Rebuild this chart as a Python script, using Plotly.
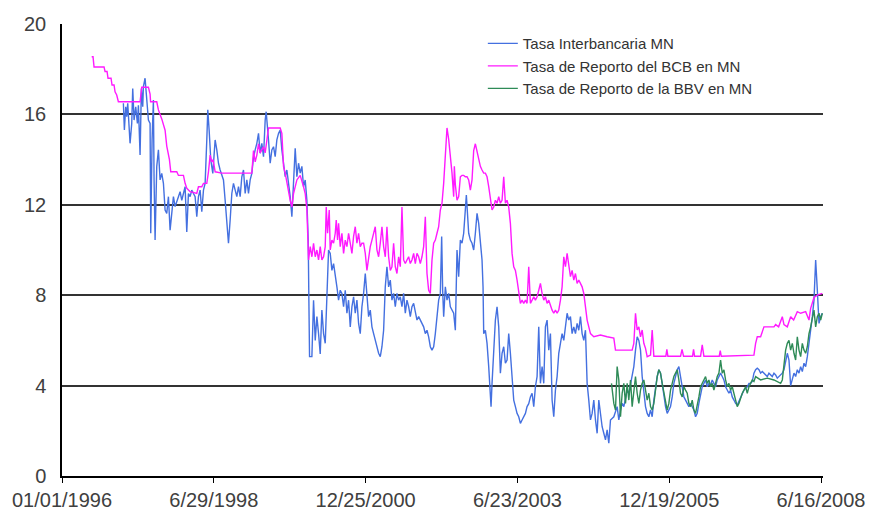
import pandas as pd
import plotly.graph_objects as go

# Days since 01/01/1996 and rates (%)
blue_days = [368,374,382,388,394,408,418,424,432,442,452,458,468,476,484,488,498,508,518,528,532,540,548,552,558,568,578,588,598,608,618,628,638,648,658,668,678,688,698,708,718,728,738,748,758,768,778,788,798,808,818,828,838,848,858,868,874,882,892,904,918,928,938,948,968,978,988,998,1008,1018,1028,1038,1048,1058,1068,1078,1088,1098,1108,1118,1128,1138,1148,1158,1168,1178,1188,1198,1208,1218,1224,1238,1248,1258,1268,1278,1288,1298,1308,1318,1328,1338,1348,1358,1368,1378,1388,1398,1408,1418,1428,1438,1448,1458,1468,1476,1480,1484,1498,1508,1518,1528,1538,1548,1558,1568,1578,1588,1598,1608,1618,1628,1638,1648,1658,1668,1678,1688,1698,1708,1718,1728,1738,1748,1758,1768,1778,1788,1798,1808,1818,1828,1838,1848,1858,1868,1878,1888,1898,1908,1918,1928,1938,1948,1958,1968,1978,1988,1998,2008,2018,2028,2038,2048,2058,2068,2078,2088,2098,2108,2118,2128,2138,2148,2158,2168,2178,2188,2198,2208,2218,2228,2238,2248,2258,2268,2276,2282,2288,2298,2308,2318,2328,2348,2358,2368,2378,2388,2398,2408,2418,2424,2438,2448,2458,2468,2478,2488,2498,2508,2518,2524,2528,2538,2548,2558,2568,2572,2578,2588,2598,2608,2618,2628,2638,2648,2658,2668,2678,2688,2698,2708,2718,2728,2738,2748,2758,2768,2778,2788,2798,2808,2818,2828,2838,2848,2858,2868,2878,2888,2898,2908,2918,2928,2938,2948,2958,2968,2978,2988,2998,3008,3018,3028,3038,3048,3058,3068,3078,3088,3098,3108,3118,3128,3138,3148,3158,3168,3178,3188,3198,3208,3218,3228,3238,3248,3258,3268,3278,3288,3308,3328,3338,3348,3358,3368,3378,3388,3398,3408,3418,3428,3438,3448,3458,3468,3478,3488,3498,3508,3518,3528,3538,3548,3558,3568,3578,3588,3598,3608,3618,3628,3638,3648,3658,3668,3678,3688,3698,3708,3718,3728,3738,3748,3758,3768,3778,3788,3798,3808,3818,3828,3838,3848,3858,3868,3878,3888,3898,3908,3918,3928,3938,3948,3958,3968,3978,3988,3998,4008,4018,4028,4038,4048,4058,4068,4078,4088,4098,4108,4118,4128,4138,4148,4158,4168,4178,4188,4198,4208,4218,4228,4238,4248,4258,4268,4278,4288,4298,4308,4318,4328,4338,4348,4358,4368,4388,4398,4408,4418,4428,4438,4448,4458,4468,4478,4488,4498,4508,4518,4528,4538,4548,4558]
blue_vals = [16.49,15.31,16.34,15.9,16.49,14.72,15.6,17.15,15.75,16.34,15.6,16.4,14.2,17.15,16.34,17.23,17.6,16.78,15.75,15.6,10.74,14.87,16.64,13.1,10.44,13.7,14.43,13.1,13.39,12.95,11.77,11.62,12.36,10.88,11.62,12.36,11.92,12.2,12.36,12.58,12.2,12.5,12.8,10.8,12.5,12.36,12.65,12.5,12.36,11.47,12.36,12.65,11.7,12.65,12.95,14.87,16.2,15.31,13.98,13.39,14.87,14.43,13.84,13.54,13.1,12.2,11.03,10.3,11.33,12.5,12.95,12.65,12.36,12.8,12.36,13.24,13.54,12.5,13.1,12.5,13.1,13.39,14.1,14.43,14.72,15.16,14.28,14.72,14.13,15.75,16.12,14.87,13.84,14.43,14.57,14.13,14.87,15.16,15.31,14.43,13.7,13.24,13.54,12.95,12.36,11.47,12.8,14.5,13.24,13.84,13.4,13.7,12.8,13.1,12.2,10.44,7.78,5.28,5.28,7.78,6.0,7.05,6.3,5.4,7.34,6.3,5.87,8.08,10.0,9.85,9.1,9.4,8.96,8.37,7.78,8.22,8.08,7.49,8.22,7.2,7.78,6.6,7.49,7.93,7.2,7.78,6.75,6.3,7.49,8.08,8.96,7.78,7.05,7.34,6.6,6.3,6.0,5.72,5.43,5.28,5.72,6.45,8.37,9.26,8.37,8.67,7.78,8.08,7.49,8.08,7.78,7.93,7.49,8.08,7.2,7.78,7.49,7.05,7.49,7.64,7.2,6.9,7.05,6.9,6.75,6.6,6.3,6.45,6.16,5.72,5.57,5.72,6.3,7.2,7.78,8.08,10.6,8.2,7.05,8.37,7.78,8.08,7.49,7.2,6.45,10.0,8.82,10.44,10.3,10.74,12.2,12.43,10.74,10.44,10.3,10.0,10.74,11.62,11.18,10.15,9.56,8.37,6.3,6.45,5.87,4.84,3.66,3.07,4.1,5.43,6.9,7.49,6.6,4.55,5.43,5.72,4.99,5.13,6.3,5.43,4.55,3.36,3.07,2.77,2.62,2.33,2.48,2.62,2.77,3.07,3.2,3.5,3.66,3.07,3.95,4.4,6.6,4.1,4.84,4.1,6.6,6.9,5.57,6.3,3.36,2.62,3.8,4.4,5.43,5.87,6.3,6.0,6.6,7.2,6.9,7.05,6.3,6.6,6.3,6.75,6.45,7.05,6.3,6.0,6.45,4.1,3.36,2.48,2.77,3.36,2.48,1.89,3.36,2.62,2.18,1.89,1.6,2.04,1.45,2.48,2.62,3.07,2.48,2.92,3.21,3.07,3.5,3.8,3.66,4.1,4.4,4.84,5.57,6.16,6.0,5.57,4.4,3.66,3.07,2.77,2.62,2.92,2.62,3.36,3.95,4.4,4.7,4.55,4.1,3.5,3.07,2.77,2.92,3.07,3.5,4.1,4.4,4.7,4.84,4.4,3.8,3.5,3.36,3.21,3.07,3.21,3.07,2.92,2.62,2.77,3.21,3.66,3.95,4.1,4.25,3.95,4.1,4.03,4.25,4.1,3.95,4.25,4.4,4.55,4.4,4.25,3.95,3.8,3.66,3.8,3.5,3.36,3.21,3.14,3.29,3.5,3.66,3.8,3.88,3.95,4.1,4.1,4.18,4.55,4.7,4.77,4.7,4.55,4.62,4.55,4.47,4.4,4.55,4.47,4.4,4.55,4.47,4.33,4.4,4.47,4.55,4.7,5.13,5.43,5.13,4.0,4.55,4.4,4.7,4.55,4.84,4.62,4.99,4.84,5.28,5.87,6.3,7.05,7.78,9.56,8.22,6.75,7.05,7.2]

pink_days = [178,186,192,252,258,270,276,294,300,312,318,328,338,468,478,518,528,531,568,578,598,618,628,644,652,688,698,728,738,748,768,808,818,838,848,868,878,888,898,906,918,958,1138,1148,1158,1168,1178,1188,1208,1218,1238,1308,1318,1328,1338,1348,1358,1368,1378,1388,1408,1428,1448,1458,1468,1478,1488,1498,1508,1518,1528,1538,1548,1558,1568,1578,1584,1592,1602,1608,1618,1628,1638,1644,1652,1658,1668,1678,1688,1698,1708,1718,1728,1738,1748,1758,1768,1778,1788,1798,1808,1818,1828,1838,1848,1858,1868,1878,1888,1898,1908,1918,1928,1938,1948,1958,1968,1978,1988,1998,2008,2018,2028,2038,2048,2058,2068,2078,2088,2098,2108,2118,2128,2138,2148,2158,2168,2178,2188,2198,2208,2218,2228,2238,2248,2258,2268,2278,2288,2298,2308,2318,2328,2338,2348,2352,2358,2368,2378,2388,2398,2408,2418,2428,2438,2448,2458,2468,2478,2488,2498,2508,2518,2528,2538,2548,2558,2568,2578,2588,2598,2608,2618,2628,2638,2648,2658,2668,2678,2688,2698,2708,2718,2728,2738,2748,2758,2768,2778,2788,2798,2808,2818,2828,2838,2848,2858,2868,2878,2888,2898,2908,2918,2928,2938,2948,2958,2968,2978,2988,2998,3008,3018,3028,3038,3048,3058,3068,3078,3088,3098,3108,3118,3128,3138,3148,3158,3168,3188,3228,3268,3308,3318,3418,3428,3438,3448,3458,3468,3478,3488,3498,3508,3528,3538,3548,3620,3626,3632,3708,3717,3726,3780,3786,3792,3828,3838,3848,3940,3946,3952,4148,4158,4168,4188,4208,4268,4278,4296,4318,4328,4348,4368,4386,4408,4428,4458,4478,4488,4508,4528,4558]
pink_vals = [18.55,18.55,18.1,18.1,17.9,17.9,17.6,17.6,17.3,17.3,17.0,16.86,16.56,16.56,17.2,17.2,16.9,16.56,16.56,16.2,15.8,15.3,14.6,14.0,13.46,13.46,13.3,13.3,12.95,12.73,12.58,12.5,12.8,12.8,12.95,12.95,13.46,14.2,13.9,14.0,13.46,13.4,13.4,14.4,13.9,14.2,14.7,14.3,14.57,14.3,15.4,15.4,15.16,13.7,13.4,12.95,12.5,12.2,11.9,12.5,13.1,13.3,12.8,12.5,11.8,9.56,10.15,9.7,10.3,9.7,10.0,9.56,10.15,9.56,9.7,10.15,11.9,10.74,11.77,10.0,10.44,10.3,10.74,11.33,10.44,11.18,10.15,10.74,9.85,10.44,10.15,10.74,10.3,9.85,10.6,11.03,10.3,10.74,10.15,10.3,10.3,9.85,9.1,9.7,10.15,10.44,10.74,11.03,10.0,9.7,10.3,11.03,10.15,9.7,11.03,9.7,9.1,9.26,10.3,9.26,8.96,9.7,9.26,11.9,9.56,9.4,9.56,9.7,9.4,9.56,9.85,9.4,9.85,9.7,9.4,9.7,10.15,11.47,8.96,8.22,8.08,9.56,10.3,10.44,10.74,11.03,11.77,12.07,12.95,14.5,15.4,14.9,14.28,13.4,12.36,13.7,12.9,12.2,12.36,13.24,13.3,13.3,13.24,13.24,13.1,12.65,13.1,14.4,14.7,14.4,13.98,13.7,13.54,13.4,13.4,13.24,12.8,12.2,11.77,11.9,12.2,12.07,12.36,12.07,12.2,13.24,12.07,12.2,11.9,11.18,9.85,9.26,9.1,8.67,8.08,7.64,7.78,7.64,7.78,7.64,9.26,7.64,7.78,7.93,7.78,7.93,8.22,8.52,8.08,7.78,7.93,7.64,7.78,7.5,7.34,7.2,7.34,7.2,7.34,7.78,8.37,9.7,9.26,9.85,9.26,8.82,9.1,8.67,8.96,8.52,8.67,8.52,8.37,8.08,7.34,6.9,6.6,6.3,6.16,6.24,6.16,6.1,5.57,5.57,5.87,7.2,6.46,6.6,6.16,6.46,5.87,5.65,5.28,5.35,6.46,5.3,5.3,5.6,5.3,5.3,5.6,5.3,5.3,5.6,5.3,5.3,5.8,5.3,5.3,5.55,5.3,5.35,5.87,6.16,6.16,6.6,6.6,6.7,6.6,7.05,6.7,6.6,7.05,6.9,7.27,7.2,7.27,6.9,7.42,7.9,8.0,8.08]

green_days = [3294,3308,3318,3328,3338,3348,3358,3368,3378,3388,3398,3408,3418,3428,3438,3448,3458,3468,3478,3488,3498,3508,3518,3528,3538,3548,3558,3568,3578,3588,3598,3608,3618,3628,3638,3648,3658,3668,3678,3688,3698,3708,3718,3728,3738,3748,3758,3768,3778,3788,3798,3808,3818,3828,3838,3848,3858,3868,3878,3888,3898,3908,3918,3928,3938,3948,3958,3968,3978,3988,3998,4008,4018,4028,4038,4048,4058,4068,4078,4088,4098,4108,4118,4128,4138,4148,4158,4188,4228,4268,4308,4318,4328,4338,4348,4358,4368,4378,4388,4398,4408,4418,4428,4438,4448,4458,4468,4478,4488,4498,4508,4518,4528,4538,4548,4558]
green_vals = [4.1,3.21,2.92,4.84,4.25,2.62,3.66,4.1,3.21,4.1,3.36,4.25,3.07,3.8,4.4,3.66,3.21,3.8,4.1,4.25,3.8,3.36,3.66,3.07,2.92,3.21,3.8,4.4,4.7,4.55,4.1,3.66,3.21,2.92,3.21,3.8,4.1,4.4,4.55,4.7,4.25,3.66,3.5,3.95,3.8,3.66,3.21,3.07,3.36,2.92,2.77,3.07,3.5,3.95,4.1,4.25,4.4,4.1,4.25,3.95,4.1,3.8,4.18,4.4,4.55,5.13,4.55,4.7,4.25,3.95,4.1,3.8,3.95,3.66,3.36,3.07,3.21,3.5,3.66,3.8,3.95,3.66,3.95,4.1,4.25,4.18,4.4,4.25,4.33,4.25,4.1,4.25,4.84,5.57,5.87,6.0,5.57,5.87,5.43,5.13,6.16,5.57,5.28,5.87,5.57,5.43,5.72,6.3,6.6,7.05,7.34,6.6,7.05,7.2,6.9,7.2]

tick_days = [0, 910, 1820, 2730, 3640, 4550]
tick_labels = ["01/01/1996", "6/29/1998", "12/25/2000", "6/23/2003", "12/19/2005", "6/16/2008"]
names = ["Tasa Interbancaria MN", "Tasa de Reporto del BCB en MN", "Tasa de Reporto de la BBV en MN"]
colors = ["#4470e0", "#ff1aff", "#2e8b57"]

origin = pd.Timestamp("1996-01-01")
def to_dates(days):
    return origin + pd.to_timedelta(days, unit="D")

fig = go.Figure()
for d, v, n, c in [(blue_days, blue_vals, names[0], colors[0]),
                   (pink_days, pink_vals, names[1], colors[1]),
                   (green_days, green_vals, names[2], colors[2])]:
    fig.add_trace(go.Scatter(x=to_dates(d), y=v, name=n, mode="lines",
                             line=dict(color=c, width=1.4)))

fig.update_layout(
    width=871, height=513,
    margin=dict(l=62, r=48, t=24, b=37, autoexpand=False),
    paper_bgcolor="white", plot_bgcolor="white",
    font=dict(family="Arial, Liberation Sans, sans-serif", color="#404040"),
    showlegend=True,
    legend=dict(x=0.553, y=0.993, xanchor="left", yanchor="top",
                bgcolor="rgba(255,255,255,1)", borderwidth=0,
                font=dict(size=15, color="#333333"),
                tracegroupgap=0, itemwidth=30),
)
fig.update_xaxes(
    type="date", automargin=False,
    range=[origin, to_dates([4562])[0]],
    tickvals=to_dates(tick_days), ticktext=tick_labels,
    tickfont=dict(size=20, color="#404040"),
    showgrid=False, zeroline=False,
    showline=True, linecolor="black", linewidth=1.5,
    ticks="outside", ticklen=5, tickcolor="black", tickwidth=1,
)
fig.update_yaxes(
    automargin=False,
    range=[0, 20], tickvals=[0, 4, 8, 12, 16, 20],
    tickfont=dict(size=20, color="#404040"),
    showgrid=True, gridcolor="#333333", gridwidth=1.5,
    zeroline=False, showline=True, linecolor="black", linewidth=1.5,
    ticks="", ticklabelstandoff=10,
)

# remove the default page margin so the 871x513 figure fills the window exactly
fig.write_html("out.html",
               config={"displayModeBar": False},
               post_script="document.body.style.margin='0';document.body.style.overflow='hidden';")
